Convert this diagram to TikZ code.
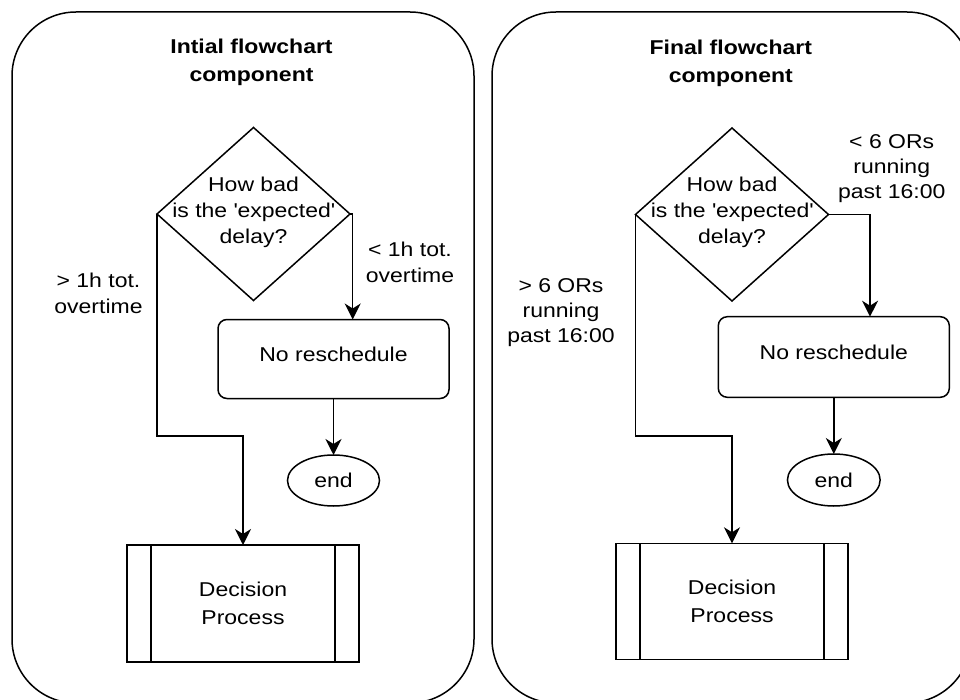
\documentclass[tikz,border=0pt]{standalone}
\usepackage{fontspec}
\setmainfont{Liberation Sans}[FakeStretch=1.15]
\usetikzlibrary{shapes.geometric,arrows.meta,calc}
\begin{document}
\begin{tikzpicture}[x=1pt,y=-1pt,line width=1.5pt,
  every node/.style={inner sep=0pt,outer sep=0pt,font=\fontsize{20}{26}\selectfont},
  panel/.style={draw,rounded corners=64pt},
  dec/.style={draw,diamond,minimum width=193pt,minimum height=173pt},
  box/.style={draw,rectangle,rounded corners=9pt,minimum width=231pt,minimum height=79pt},
  proc/.style={draw,rectangle,minimum width=232pt,minimum height=117pt,align=center,font=\fontsize{20}{28}\selectfont},
  term/.style={draw,ellipse,minimum width=92pt,minimum height=51pt},
  lbl/.style={align=center,font=\fontsize{20}{26}\selectfont},
  lblb/.style={align=center,font=\fontsize{20}{25}\selectfont},
  ttl/.style={align=center,font=\fontsize{20}{28}\selectfont\bfseries},
  arr/.style={-{Stealth[length=16pt,width=16pt,inset=5pt]}},
]
\useasboundingbox (0,0) rectangle (960,700);
\clip (0,0) rectangle (960,700);

% panels
\draw[panel] (12,12) rectangle (474,703);
\draw[panel] (492,12) rectangle (971,703);

% titles
\node[ttl] (t1) at (251.5,62.5) {Intial flowchart\\component};
\node[ttl] (t2) at (730.8,63.5) {Final flowchart\\component};

% left flowchart
\node[dec,label={[lbl,yshift=2pt]center:How bad\\is the \textquotesingle expected\textquotesingle\\delay?}] (d1) at (253.5,214) {};
\node[box] (nr1) at (333.5,359) {};
\node (nrt1) at (333.5,354) {No reschedule};
\node[term] (e1) at (333.5,480.5) {end};
\node[proc] (dp1) at (243,603.5) {Decision\\Process};
\draw ([xshift=24pt]dp1.north west) -- ([xshift=24pt]dp1.south west);
\draw ([xshift=-24pt]dp1.north east) -- ([xshift=-24pt]dp1.south east);
\node[lbl] (l1) at (98.5,293) {> 1h tot.\\overtime};
\node[lbl] (l2) at (410,262.5) {< 1h tot.\\overtime};

\coordinate (b1) at (0,436);
\coordinate (c1) at (352.7,0);
\draw[arr] (d1.west) |- (dp1.north |- b1) -- (dp1.north);
\draw[arr] (d1.east) -| (nr1.north -| c1);
\draw[arr] (nr1.south) -- (e1.north);

% right flowchart
\node[dec,label={[lbl,yshift=2pt]center:How bad\\is the \textquotesingle expected\textquotesingle\\delay?}] (d2) at (732,214.5) {};
\node[box,minimum height=80.6pt] (nr2) at (833.8,357) {};
\node (nrt2) at (833.8,352) {No reschedule};
\node[term,minimum width=92.7pt,minimum height=52pt] (e2) at (833.8,480) {end};
\node[proc,minimum height=116pt] (dp2) at (732,601.3) {Decision\\Process};
\draw ([xshift=24pt]dp2.north west) -- ([xshift=24pt]dp2.south west);
\draw ([xshift=-24pt]dp2.north east) -- ([xshift=-24pt]dp2.south east);
\node[lblb] (l3) at (561,312.5) {> 6 ORs\\running\\past 16:00};
\node[lblb] (l4) at (891.7,168.2) {< 6 ORs\\running\\past 16:00};

\coordinate (c2) at (870,0);
\draw[arr] (d2.west) |- (dp2.north |- b1) -- (dp2.north);
\draw[arr] (d2.east) -| (nr2.north -| c2);
\draw[arr] (nr2.south) -- (e2.north);
\end{tikzpicture}
\end{document}
